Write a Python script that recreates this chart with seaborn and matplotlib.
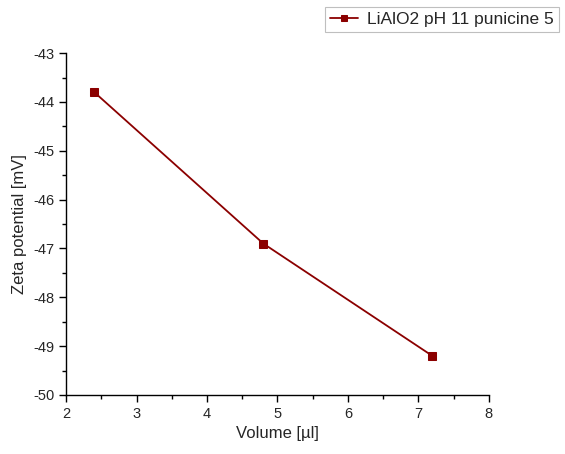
import matplotlib
matplotlib.use("Agg")
import matplotlib.pyplot as plt
import seaborn as sns
import pandas as pd
from matplotlib.ticker import MultipleLocator

volume = [2.4, 4.8, 7.2]
zeta = [-43.8, -46.9, -49.2]
series_label = "LiAlO2 pH 11 punicine 5"

sns.set_style("ticks")
plt.rcParams['font.family'] = ['Liberation Sans', 'DejaVu Sans']
plt.rcParams['axes.unicode_minus'] = False

df = pd.DataFrame({"Volume": volume, "Zeta": zeta})

fig = plt.figure(figsize=(5.65, 4.54), dpi=100)
ax = fig.add_axes([0.117, 0.130, 0.748, 0.753])
color = "#8B0000"
sns.lineplot(data=df, x="Volume", y="Zeta", ax=ax, color=color, marker="s",
             markersize=6, markeredgecolor=color, linewidth=1.3, label=series_label)

ax.set_xlim(2, 8)
ax.set_ylim(-50, -43)
ax.xaxis.set_major_locator(MultipleLocator(1))
ax.xaxis.set_minor_locator(MultipleLocator(0.5))
ax.yaxis.set_major_locator(MultipleLocator(1))
ax.yaxis.set_minor_locator(MultipleLocator(0.5))
ax.tick_params(which="major", direction="out", length=5, width=1, labelsize=10.5, color="black")
ax.tick_params(which="minor", direction="out", length=3, width=1, color="black")
for s in ["top", "right"]:
    ax.spines[s].set_visible(False)
for s in ["left", "bottom"]:
    ax.spines[s].set_color("black")
    ax.spines[s].set_linewidth(1)
ax.set_xlabel("Volume [µl]", fontsize=12)
ax.set_ylabel("Zeta potential [mV]", fontsize=12)

leg = ax.legend(loc="upper left", bbox_to_anchor=(0.575, 0.985), bbox_transform=fig.transFigure,
                fontsize=12.5, frameon=True, fancybox=False, handlelength=1.6,
                handletextpad=0.5, borderpad=0.3, borderaxespad=0, markerscale=0.8)
leg.get_frame().set_edgecolor("#b0b0b0")
leg.get_frame().set_linewidth(0.8)

fig.savefig("out.png", dpi=100)
